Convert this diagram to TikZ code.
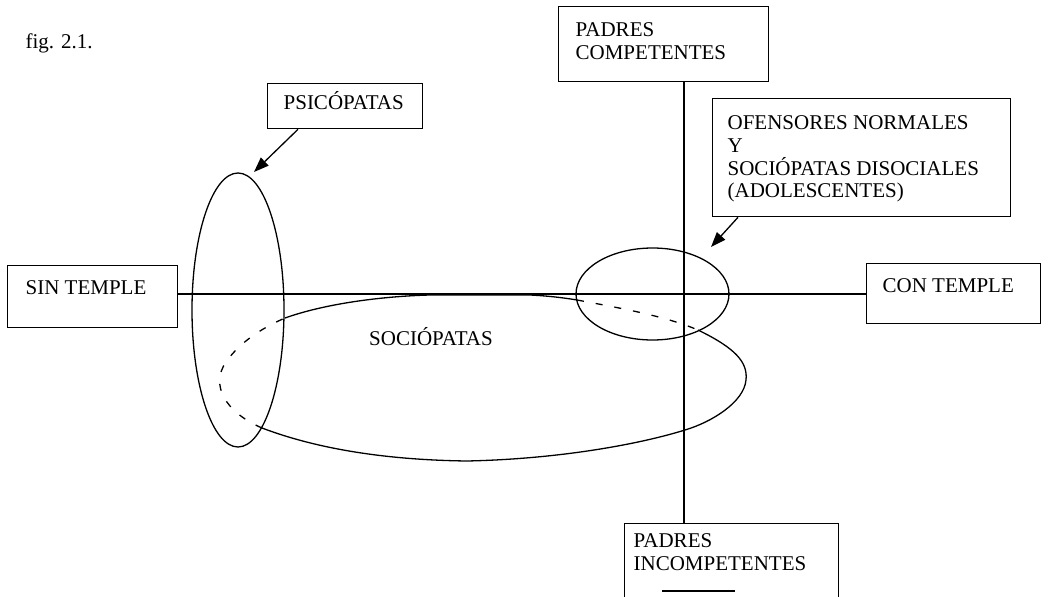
\documentclass[tikz,border=0pt]{standalone}
\usepackage{fontspec}
\setmainfont{Liberation Serif}
\usetikzlibrary{arrows.meta,shapes.geometric}
\begin{document}
\begin{tikzpicture}[x=1pt,y=-1pt,line width=1.3pt,
  box/.style={draw,rectangle,inner sep=0pt,anchor=north west},
  lbl/.style={anchor=base west,inner sep=0pt,font=\fontsize{21}{23}\selectfont},
  arr/.style={-{Triangle[length=15pt,width=11pt]}},
  oval/.style={draw,ellipse,inner sep=0pt},
  dsh/.style={dash pattern=on 7pt off 12pt}]
\clip (0,0) rectangle (1053,597);
% boxes
\node[box,minimum width=155pt,minimum height=45pt] (psic) at (267,83) {};
\node[box,minimum width=210pt,minimum height=75pt] (pc) at (558,6) {};
\node[box,minimum width=298pt,minimum height=118pt] (ofe) at (712,98) {};
\node[box,minimum width=170pt,minimum height=62pt] (sin) at (7,265) {};
\node[box,minimum width=174pt,minimum height=60pt] (con) at (866,263) {};
\node[box,minimum width=214pt,minimum height=90pt] (pi) at (624,523) {};
% texts
\node[lbl] (fig) at (25,48) {fig. 2.1.};
\node[lbl] (tpsic) at (283,109) {PSICÓPATAS};
\node[lbl] (tpc1) at (575,36) {PADRES};
\node[lbl] (tpc2) at (575,59) {COMPETENTES};
\node[lbl] (to1) at (727,129) {OFENSORES NORMALES};
\node[lbl] (to2) at (727,152) {Y};
\node[lbl] (to3) at (727,175) {SOCIÓPATAS DISOCIALES};
\node[lbl] (to4) at (727,197) {(ADOLESCENTES)};
\node[lbl] (tsin) at (25,294) {SIN TEMPLE};
\node[lbl] (tcon) at (882,292) {CON TEMPLE};
\node[lbl] (tpi1) at (633,547) {PADRES};
\node[lbl] (tpi2) at (633,570) {INCOMPETENTES};
\node[lbl,anchor=base] (tsoc) at (431,345) {SOCIÓPATAS};
% ellipses
\node[oval,minimum width=92pt,minimum height=274pt] (elp) at (238,310) {};
\node[oval,minimum width=153pt,minimum height=92pt] (elo) at (652.5,294) {};
% axes
\coordinate (ax) at (0,294);
\coordinate (vx) at (684,0);
\draw (sin.east |- ax) -- (con.west |- ax);
\draw (pc.south -| vx) -- (pi.north -| vx);
% arrows
\coordinate (tipp) at (254,172);
\coordinate (tipo) at (711,247);
\draw[arr] ([xshift=31pt]psic.south west) -- (tipp);
\draw[arr] ([xshift=26pt]ofe.south west) -- (tipo);
% sociopatas region
\coordinate (sa) at (285,318);
\coordinate (sb) at (577,300);
\coordinate (sc) at (698,330);
\coordinate (sd) at (262,428);
\draw (sa) .. controls (330,302) and (390,296) .. (430,295) -- (530,295)
  .. controls (550,296) and (565,298) .. (sb);
\draw[dsh] (sb) .. controls (620,308) and (665,316) .. (sc);
\draw (sc) .. controls (735,348) and (748,362) .. (746,380)
  .. controls (744,402) and (712,422) .. (685,430)
  .. controls (640,444) and (560,459) .. (467,461)
  .. controls (390,460) and (320,450) .. (sd);
\draw[dsh] (sd) .. controls (225,412) and (210,385) .. (226,362)
  .. controls (240,342) and (262,328) .. (sa);
% fragment at bottom
\draw (662,591) -- (735,591);
\end{tikzpicture}
\end{document}
